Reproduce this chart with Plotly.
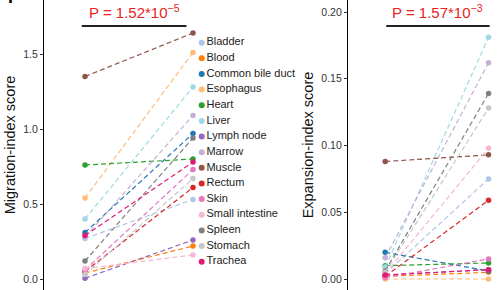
import plotly.graph_objects as go

W, H = 502, 290

tissues = ["Bladder", "Blood", "Common bile duct", "Esophagus", "Heart", "Liver",
           "Lymph node", "Marrow", "Muscle", "Rectum", "Skin", "Small intestine",
           "Spleen", "Stomach", "Trachea"]
colors = ["#aec7e8", "#ff7f0e", "#1f77b4", "#ffbb78", "#2ca02c", "#9edae5",
          "#9467bd", "#c5b0d5", "#8c564b", "#d62728", "#e377c2", "#f7b6d2",
          "#7f7f7f", "#c7c7c7", "#dd1c77"]

# Migration-index score: before (left) and after (right)
mig_before = [0.27, 0.04, 0.31, 0.54, 0.76, 0.40, 0.005, 0.28, 1.35, 0.05, 0.06, 0.07, 0.12, 0.03, 0.29]
mig_after = [0.53, 0.22, 0.97, 1.51, 0.80, 1.28, 0.26, 1.09, 1.64, 0.61, 0.73, 0.16, 0.94, 0.67, 0.78]

# Expansion-index score: before and after
exp_before = [0.004, 0.002, 0.020, 0.000, 0.010, 0.009, 0.003, 0.016, 0.088, 0.002, 0.001, 0.004, 0.006, 0.005, 0.003]
exp_after = [0.075, 0.005, 0.006, 0.000, 0.012, 0.181, 0.007, 0.162, 0.093, 0.059, 0.015, 0.098, 0.139, 0.128, 0.007]

p_left = "P = 1.52*10<sup>−5</sup>"
p_right = "P = 1.57*10<sup>−3</sup>"

FONT = "Liberation Sans, Arial, sans-serif"
LINE = dict(width=1.2, dash="5px,3px")

fig = go.Figure()
for i, t in enumerate(tissues):
    fig.add_trace(go.Scatter(
        x=[0, 1], y=[mig_before[i], mig_after[i]], mode="lines+markers",
        name=t, showlegend=False,
        line=dict(color=colors[i], **LINE),
        marker=dict(color=colors[i], size=5.5),
        xaxis="x", yaxis="y"))
for i, t in enumerate(tissues):
    fig.add_trace(go.Scatter(
        x=[0, 1], y=[exp_before[i], exp_after[i]], mode="lines+markers",
        name=t, showlegend=False,
        line=dict(color=colors[i], **LINE),
        marker=dict(color=colors[i], size=5.5),
        xaxis="x2", yaxis="y2"))

# legend drawn as a marker+text column on its own hidden axes
fig.add_trace(go.Scatter(
    x=[0] * len(tissues), y=list(range(len(tissues))), mode="markers+text",
    text=tissues, textposition="middle right",
    textfont=dict(size=11, color="#222222", family=FONT),
    marker=dict(color=colors, size=6), showlegend=False, hoverinfo="skip",
    cliponaxis=False, xaxis="x3", yaxis="y3"))

def px_x(p):
    return p / W

y1_range = [(279 - 290) / 150.0, 279 / 150.0]
y2_range = [(279 - 290) / 1335.0, 279 / 1335.0]
leg_top, leg_step = 42.7, 15.64
y3_range = [(H - leg_top) / leg_step, -leg_top / leg_step]

hidden = dict(showticklabels=False, showgrid=False, zeroline=False, ticks="", showline=False)

fig.update_layout(
    width=W, height=H,
    margin=dict(l=0, r=0, t=0, b=0),
    paper_bgcolor="white", plot_bgcolor="rgba(0,0,0,0)",
    font=dict(family=FONT, color="#333333"),
    showlegend=False,
    xaxis=dict(domain=[px_x(44), px_x(200)], range=[-0.38, 1.065], **hidden),
    yaxis=dict(domain=[0, 1], range=y1_range, tickvals=[0, 0.5, 1.0, 1.5],
               ticktext=["0.0", "0.5", "1.0", "1.5"],
               showgrid=False, zeroline=False, showline=True, linecolor="black",
               linewidth=1.3, ticks="outside", ticklen=3, tickcolor="#333333",
               tickfont=dict(size=10.5, color="#333333"),
               title=dict(text="Migration-index score", font=dict(size=14.5, color="#111111"), standoff=4)),
    xaxis2=dict(domain=[px_x(348), px_x(502)], range=[-0.36, 1.13], **hidden),
    yaxis2=dict(domain=[0, 1], range=y2_range, anchor="x2",
                tickvals=[0, 0.05, 0.10, 0.15, 0.20],
                ticktext=["0.00", "0.05", "0.10", "0.15", "0.20"],
                showgrid=False, zeroline=False, showline=True, linecolor="black",
                linewidth=1.3, ticks="outside", ticklen=3, tickcolor="#333333",
                tickfont=dict(size=10.5, color="#333333"),
                title=dict(text="Expansion-index score", font=dict(size=14.5, color="#111111"), standoff=4)),
    xaxis3=dict(domain=[px_x(197), px_x(300)], range=[-4.7, 98.3], **hidden),
    yaxis3=dict(domain=[0, 1], range=y3_range, anchor="x3", **hidden),
)

# significance bars
fig.add_shape(type="line", xref="x", yref="y", x0=-0.03, x1=0.94,
              y0=(279 - 26) / 150.0, y1=(279 - 26) / 150.0,
              line=dict(color="#222222", width=2))
fig.add_shape(type="line", xref="x2", yref="y2", x0=0.01, x1=1.01,
              y0=(279 - 26) / 1335.0, y1=(279 - 26) / 1335.0,
              line=dict(color="#222222", width=2))

fig.add_annotation(text=p_left, xref="x", yref="paper", x=0.46, y=1 - 12 / H,
                   xanchor="center", yanchor="middle",
                   showarrow=False, font=dict(size=15, color="#e8221e", family=FONT))
fig.add_annotation(text=p_right, xref="x2", yref="paper", x=0.51, y=1 - 12 / H,
                   xanchor="center", yanchor="middle",
                   showarrow=False, font=dict(size=15, color="#e8221e", family=FONT))
fig.add_annotation(text="<b>I</b>", xref="paper", yref="paper", x=10 / W, y=1,
                   xanchor="center", yanchor="bottom", showarrow=False,
                   font=dict(size=18, color="black", family=FONT), yshift=-9)

fig.write_html("out.html", config={"displayModeBar": False},
               post_script="document.body.style.margin='0';document.body.style.overflow='hidden';")
